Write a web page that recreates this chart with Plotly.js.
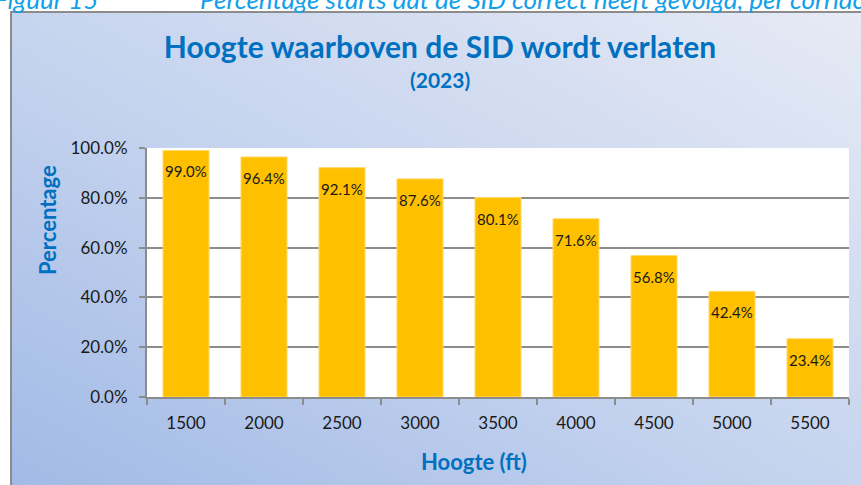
<!DOCTYPE html>
<html>
<head>
<meta charset="utf-8">
<script src="https://cdn.plot.ly/plotly-3.0.1.min.js"></script>
<style>
  html, body { margin: 0; padding: 0; background: #ffffff; }
  #wrap { position: relative; width: 861px; height: 485px; overflow: hidden; background: #ffffff; }
  #frame { position: absolute; left: 10px; top: 11px; width: 851px; height: 474px;
           border-left: 2px solid #8c8c8c; border-top: 2px solid #8c8c8c; box-sizing: border-box;
           background: linear-gradient(to top right, #a2bae6 0%, #c3d2ee 45%, #e6eaf5 100%); }
  #chart { position: absolute; left: 0; top: 0; width: 861px; height: 485px; }
</style>
</head>
<body>
<div id="wrap">
  <div id="frame"></div>
  <div id="chart"></div>
</div>
<script>
// Data
const categories = ["1500", "2000", "2500", "3000", "3500", "4000", "4500", "5000", "5500"];
const percentages = [99.0, 96.4, 92.1, 87.6, 80.1, 71.6, 56.8, 42.4, 23.4];
const yTickValues = [0, 20, 40, 60, 80, 100];
const yTickLabels = ["0.0%", "20.0%", "40.0%", "60.0%", "80.0%", "100.0%"];
const chartTitle = "Hoogte waarboven de SID wordt verlaten";
const chartSubtitle = "(2023)";
const xTitle = "Hoogte (ft)";
const yTitle = "Percentage";
const captionLabel = "Figuur 15";
const captionText = "Percentage starts dat de SID correct heeft gevolgd, per corridor";

const FONT = "Lato, 'Open Sans', sans-serif";
const BLUE = "#0070c0";

const trace = {
  type: "bar",
  x: categories,
  y: percentages,
  marker: { color: "#ffc000", line: { color: "#ffd966", width: 1 } },
  hoverinfo: "none"
};

const plotTop = 148, plotH = 249; // pixels, used for placing annotations
function py(pix) { return 1 - (pix - plotTop) / plotH; }

const annotations = percentages.map((v, i) => ({
  x: i, y: v, xref: "x", yref: "y",
  text: v.toFixed(1) + "%", showarrow: false,
  yanchor: "top", yshift: -10,
  font: { family: FONT, size: 15, color: "#1a1a1a" }
}));

annotations.push(
  { xref: "paper", yref: "paper", x: (440 - 147) / 702, y: py(79), text: "<b>" + chartSubtitle + "</b>",
    showarrow: false, xanchor: "center", yanchor: "middle", font: { family: FONT, size: 21, color: BLUE } },
  { xref: "paper", yref: "paper", x: (474 - 147) / 702, y: py(461), text: "<b>" + xTitle + "</b>",
    showarrow: false, xanchor: "center", yanchor: "middle", font: { family: FONT, size: 22, color: BLUE } },
  { xref: "paper", yref: "paper", x: (47 - 147) / 702, y: py(220), text: "<b>" + yTitle + "</b>", textangle: -90,
    showarrow: false, xanchor: "center", yanchor: "middle", font: { family: FONT, size: 22, color: BLUE } },
  { xref: "paper", yref: "paper", x: (-8 - 147) / 702, y: py(-1), text: "<i>" + captionLabel + "</i>",
    showarrow: false, xanchor: "left", yanchor: "middle", font: { family: FONT, size: 26, color: "#12a0ea" } },
  { xref: "paper", yref: "paper", x: (198 - 147) / 702, y: py(-1), text: "<i>" + captionText + "</i>",
    showarrow: false, xanchor: "left", yanchor: "middle", font: { family: FONT, size: 26, color: "#12a0ea" } }
);

const layout = {
  width: 861, height: 485,
  margin: { l: 147, r: 12, t: 148, b: 88, pad: 0 },
  paper_bgcolor: "rgba(0,0,0,0)",
  plot_bgcolor: "#ffffff",
  showlegend: false,
  bargap: 0.41,
  title: { text: "<b>" + chartTitle + "</b>", x: 440 / 861, xanchor: "center",
           y: 1 - 47 / 485, yanchor: "middle", yref: "container",
           font: { family: FONT, size: 30, color: BLUE } },
  xaxis: {
    type: "category",
    range: [-0.5, categories.length - 0.5], autorange: false,
    showline: true, linecolor: "#8c8c8c", linewidth: 2,
    ticks: "outside", tickson: "boundaries", ticklen: 6, tickcolor: "#8c8c8c", tickwidth: 2,
    ticklabelstandoff: 10, tickangle: 0,
    tickfont: { family: FONT, size: 17, color: "#1a1a1a" },
    showgrid: false, zeroline: false, fixedrange: true
  },
  yaxis: {
    range: [0, 100], autorange: false,
    tickvals: yTickValues, ticktext: yTickLabels,
    showline: true, linecolor: "#8c8c8c", linewidth: 2,
    ticks: "outside", ticklen: 6, tickcolor: "#8c8c8c", tickwidth: 2,
    ticklabelstandoff: 8,
    tickfont: { family: FONT, size: 17, color: "#1a1a1a" },
    showgrid: true, gridcolor: "#8c8c8c", gridwidth: 2,
    zeroline: false, fixedrange: true
  },
  annotations: annotations
};

Plotly.newPlot("chart", [trace], layout, { displayModeBar: false, staticPlot: true });
</script>
</body>
</html>
